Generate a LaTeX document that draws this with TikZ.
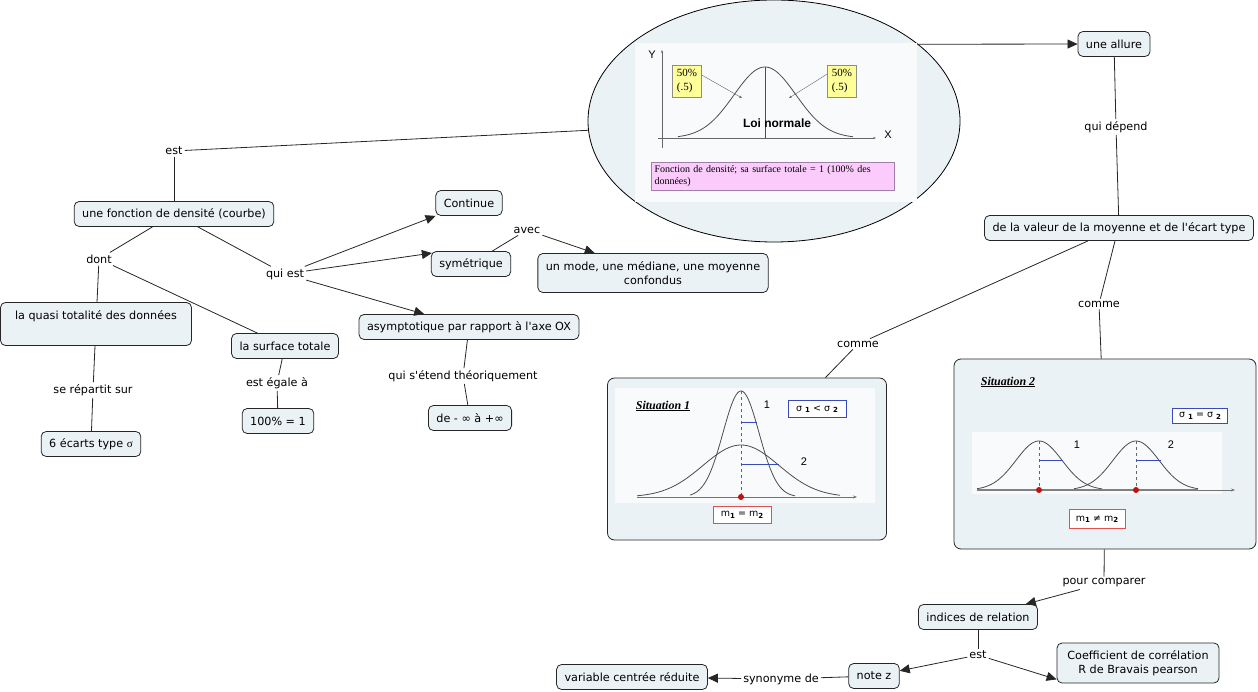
\documentclass[tikz,border=0pt]{standalone}
\usepackage{fontspec}
\setmainfont{DejaVu Sans}[Ligatures=TeXOff]
\newfontfamily\serifx{Liberation Serif}
\newfontfamily\arialx{Liberation Sans}
\usetikzlibrary{arrows.meta,shapes.geometric}
\definecolor{boxfill}{HTML}{EBF2F5}
\definecolor{imgfill}{HTML}{F8FAFB}
\definecolor{yel}{HTML}{FFFF99}
\definecolor{pinkbox}{HTML}{FBCCFB}
\definecolor{pinkline}{HTML}{A080A8}
\definecolor{sigblue}{HTML}{3A4AB8}
\definecolor{mred}{HTML}{E05050}
\definecolor{dotred}{HTML}{C01010}
\newcommand\sbd[1]{\raisebox{-1.5pt}{\bfseries\fontsize{7}{8}\selectfont #1}}
\begin{document}
\begin{tikzpicture}[x=1pt,y=-1pt,
 box/.style={draw=black!85, fill=boxfill, rounded corners=5pt, line width=0.8pt,
   inner xsep=8pt, inner ysep=4pt, minimum height=25pt,
   font=\fontsize{11.2}{13.5}\selectfont, align=center},
 lbl/.style={inner sep=2pt, font=\fontsize{11.2}{13}\selectfont},
 con/.style={line width=0.8pt, draw=black!85},
 arr/.style={con, -{Triangle[length=10pt,width=9pt]}},
 sitbox/.style={draw=black!85, fill=boxfill, rounded corners=7pt, line width=0.8pt, inner sep=0pt},
 curve/.style={draw=black!70, line width=0.8pt},
 small/.style={inner sep=1pt, font=\arialx\fontsize{11}{13}\selectfont},
 yelbox/.style={draw=black!45, fill=yel, inner sep=1.5pt, align=left, minimum width=29pt, minimum height=32pt,
      font=\serifx\fontsize{11}{13.5}\selectfont},
]
\useasboundingbox (0,0) rectangle (1258,692);

% ---------- ellipse with image ----------
\node[ellipse, draw=black, fill=boxfill, line width=0.8pt, inner sep=0pt,
      minimum width=372pt, minimum height=242pt] (ell) at (774,121) {};
\fill[imgfill] (635,43) rectangle (917,202);
\draw[black!60, line width=0.5pt, -{Stealth[length=3pt]}] (662,148) -- (662,50);
\draw[black!60, line width=0.5pt, -{Stealth[length=3pt]}] (658,138) -- (876,138);
\draw[curve] plot[domain=678:853, samples=80] (\x,{138-71*exp(-((\x-765)*(\x-765))/1922)});
\draw[black!70, line width=0.7pt] (765,67) -- (765,138);
\node[small] (ylab) at (652,55) {Y};
\node[small] (xlab) at (888,135) {X};
\node[yelbox] (yl) at (687,81) {50\%\\(.5)};
\node[yelbox] (yr) at (842,81) {50\%\\(.5)};
\draw[black!60, line width=0.4pt, -{Stealth[length=3pt]}] (yl.east |- 0,75) -- (742,98);
\draw[black!60, line width=0.4pt, -{Stealth[length=3pt]}] (yr.west |- 0,74) -- (789,98);
\node[font=\arialx\bfseries\fontsize{12}{14}\selectfont, inner sep=0pt] (loi) at (777,123) {Loi normale};
\node[draw=pinkline, fill=pinkbox, align=left, inner sep=3pt, text width=237pt,
      font=\serifx\fontsize{10}{12.5}\selectfont] (pink) at (773,176)
      {Fonction de densité; sa surface totale = 1 (100\% des\\données)};

% ---------- concept nodes ----------
\node[box] (allure) at (1114,44) {une allure};
\node[lbl] (qd) at (1116,127) {qui dépend};
\node[box] (val) at (1119,228) {de la valeur de la moyenne et de l'écart type};
\node[lbl] (comme1) at (858,344) {comme};
\node[lbl] (comme2) at (1099,304) {comme};

\node[lbl] (est1) at (174,151) {est};
\node[box] (fonc) at (174,214) {une fonction de densité (courbe)};
\node[lbl] (dont) at (99,259) {dont};
\node[box, minimum width=191pt, minimum height=43pt] (quasi) at (96,324) {la quasi totalité des données\\\strut};
\node[lbl] (rep) at (93,390) {se répartit sur};
\node[box] (six) at (91,444) {6 écarts type {\serifx σ}};
\node[box] (surf) at (285,346) {la surface totale};
\node[lbl] (egale) at (277,383) {est égale à};
\node[box] (cent) at (278,421) {100\% = 1};
\node[lbl] (quiest) at (285,274) {qui est};
\node[box] (cont) at (469,203) {Continue};
\node[box] (sym) at (471,264) {symétrique};
\node[lbl] (avec) at (527,230) {avec};
\node[box, minimum height=39pt] (mode) at (653,273) {un mode, une médiane, une moyenne\\confondus};
\node[box] (asym) at (469,327) {asymptotique par rapport à l'axe OX};
\node[lbl] (etend) at (463,376) {qui s'étend théoriquement};
\node[box] (inf) at (470,418) {de - ∞ à +∞};

\node[lbl] (pc) at (1104,583) {pour comparer};
\node[box] (ind) at (978,617) {indices de relation};
\node[lbl] (est2) at (978,655) {est};
\node[box, minimum height=40pt, minimum width=162pt] (coef) at (1138,663) {Coefficient de corrélation\\R de Bravais pearson};
\node[box] (notez) at (874,676) {note z};
\node[lbl] (syn) at (781,679) {synonyme de};
\node[box] (var) at (632,677) {variable centrée réduite};

% ---------- Situation 1 ----------
\node[sitbox, minimum width=279pt, minimum height=162pt] (s1) at (747,459) {};
\fill[white!65!boxfill] (615,388) rectangle (875,503);
\node[font=\serifx\bfseries\itshape\fontsize{12}{14}\selectfont, inner sep=0pt] (t1) at (663,406) {\underline{Situation 1}};
\draw[black!55, line width=0.6pt, -{Stealth[length=4pt]}] (637,497) -- (857,497);
\draw[black!60, line width=0.5pt, dashed] (741,391) -- (741,497);
\draw[curve] plot[domain=690:795, samples=90] (\x,{497-106*exp(-((\x-741)*(\x-741))/648)});
\draw[curve] plot[domain=637:840, samples=90] (\x,{497-52*exp(-((\x-741)*(\x-741))/2888)});
\draw[sigblue, line width=0.9pt] (741,422) -- (757,422);
\draw[sigblue, line width=0.9pt] (741,464) -- (779,464);
\fill[dotred] (741,497) circle (3pt);
\node[small] (n11) at (767,405) {1};
\node[small] (n12) at (804,462) {2};
\node[draw=sigblue, fill=white, line width=0.8pt, minimum width=58pt, minimum height=17pt, inner sep=1pt,
      font=\fontsize{9.5}{11}\selectfont] (sig1) at (817,409) {σ \sbd{1} < σ \sbd{2}};
\node[draw=mred, fill=white, line width=0.8pt, minimum width=58pt, minimum height=17pt, inner sep=1pt,
      font=\fontsize{9.5}{11}\selectfont] (m1) at (742,515) {m\sbd{1} = m\sbd{2}};

% ---------- Situation 2 ----------
\node[sitbox, minimum width=302pt, minimum height=190pt] (s2) at (1105,454) {};
\fill[white!65!boxfill] (972,432) rectangle (1222,494);
\node[font=\serifx\bfseries\itshape\fontsize{12}{14}\selectfont, inner sep=0pt] (t2) at (1008,382) {\underline{Situation 2}};
\draw[black!55, line width=0.6pt, -{Stealth[length=4pt]}] (977,490) -- (1235,490);
\draw[black!50, line width=1.8pt] (977,490) -- (1198,490);
\draw[black!60, line width=0.5pt, dashed] (1039,441) -- (1039,490);
\draw[black!60, line width=0.5pt, dashed] (1136,441) -- (1136,490);
\draw[curve] plot[domain=977:1102, samples=80] (\x,{490-49*exp(-((\x-1039)*(\x-1039))/1058)});
\draw[curve] plot[domain=1074:1198, samples=80] (\x,{490-49*exp(-((\x-1136)*(\x-1136))/1058)});
\draw[sigblue, line width=0.9pt] (1039,460) -- (1063,460);
\draw[sigblue, line width=0.9pt] (1136,460) -- (1161,460);
\fill[dotred] (1039,490) circle (3pt);
\fill[dotred] (1136,490) circle (3pt);
\node[small] (n21) at (1077,445) {1};
\node[small] (n22) at (1171,445) {2};
\node[draw=sigblue, fill=white, line width=0.8pt, minimum width=55pt, minimum height=15pt, inner sep=1pt,
      font=\fontsize{9.5}{11}\selectfont] (sig2) at (1200,416) {σ \sbd{1} = σ \sbd{2}};
\node[draw=mred, fill=white, line width=0.8pt, minimum width=56pt, minimum height=19pt, inner sep=1pt,
      font=\fontsize{9.5}{11}\selectfont] (m2) at (1097,519) {m\sbd{1} ≠ m\sbd{2}};

% ---------- connectors ----------
\draw[con] (ell) -- (est1);
\draw[con] (est1) -- (fonc);
\draw[arr] (ell.28.6) -- (allure);
\draw[con] (allure) -- (qd);
\draw[con] (qd) -- (val);
\draw[con] ([xshift=-31pt]val.south) -- (comme1);
\draw[con] (comme1) -- (s1);
\draw[con] ([xshift=-4pt]val.south) -- (comme2);
\draw[con] (comme2) -- (s2);
\draw[con] (s2) -- (pc);
\draw[arr] (pc) -- (ind);
\draw[con] (ind) -- (est2);
\draw[arr] (est2) -- (notez);
\draw[arr] (est2) -- ([yshift=4pt]coef.south west);
\draw[con] (notez) -- (syn);
\draw[arr] (syn) -- (var);

\draw[con] (fonc) -- (dont);
\draw[con] (dont) -- (quasi);
\draw[con] (dont) -- (surf);
\draw[con] (quasi) -- (rep);
\draw[con] (rep) -- (six);
\draw[con] (surf) -- (egale);
\draw[con] (egale) -- (cent);
\draw[con] (fonc) -- (quiest);
\draw[arr] (quiest) -- (cont);
\draw[arr] (quiest) -- ([xshift=1pt,yshift=-2pt]sym.north west);
\draw[arr] (quiest) -- (asym);
\draw[con] (sym) -- (avec);
\draw[arr] (avec) -- (mode);
\draw[con] (asym) -- (etend);
\draw[con] (etend) -- (inf);
\end{tikzpicture}
\end{document}
